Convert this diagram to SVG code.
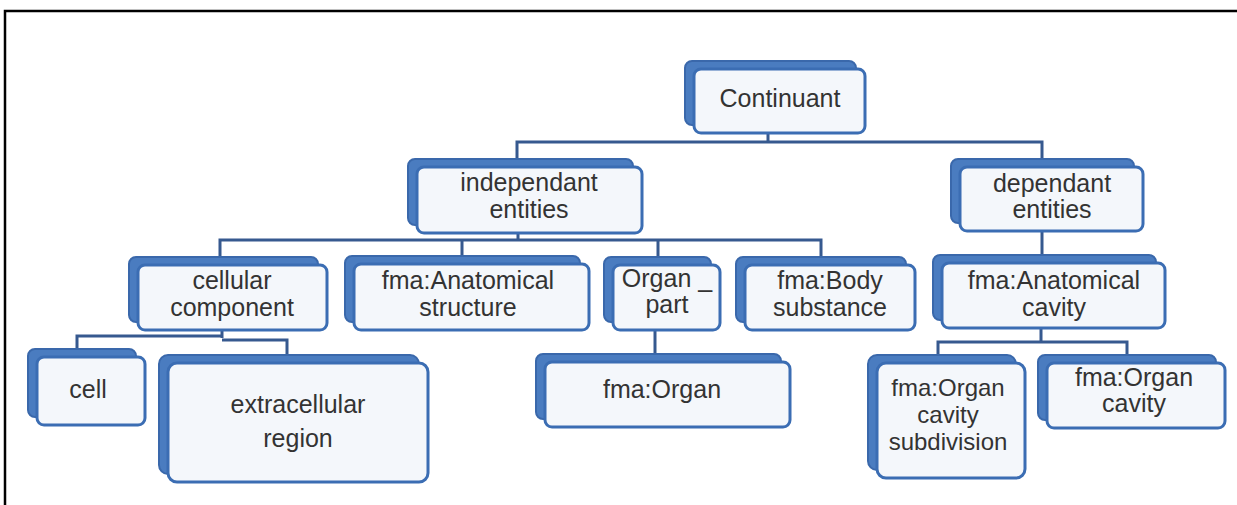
<svg xmlns="http://www.w3.org/2000/svg" width="1237" height="505" viewBox="0 0 1237 505">
  <style>
    .frame { fill: none; stroke: #000; stroke-width: 2.5; }
    .back { fill: #4a7cc0; stroke: #3a68ab; stroke-width: 2; }
    .front { fill: #f4f7fb; stroke: #3b6db3; stroke-width: 3; }
    .lbl { font-family: "Liberation Sans", Arial, sans-serif; font-size: 25px; fill: #333; text-anchor: middle; }
    .tight { font-size: 24px; }
    .conn { fill: none; stroke: #36598f; stroke-width: 3; }
  </style>

  <rect width="1237" height="505" fill="#fff"/>

  <!-- outer frame: top and left edges only -->
  <path class="frame" d="M5,505 V11 H1237"/>

  <!-- connectors -->
  <g id="connectors">
    <path class="conn" d="M768,133 V142 M517,159 V142 H1042 V159"/>
    <path class="conn" d="M518,233 V240 M220,257 V240 H821 V257 M462,240 V256 M658,240 V257"/>
    <path class="conn" d="M1042,231 V255"/>
    <path class="conn" d="M222,330 V338 M77,349 V336 H222 M222,340 H287 V355"/>
    <path class="conn" d="M655,330 V354"/>
    <path class="conn" d="M1041,328 V342 M938,354 V342 H1127 V355"/>
  </g>

  <g id="continuant">
    <rect class="back" x="685" y="61" width="171" height="64" rx="7"/>
    <rect class="front" x="694" y="69" width="171" height="64" rx="7"/>
    <text class="lbl" x="780" y="107">Continuant</text>
  </g>

  <g id="independant-entities">
    <rect class="back" x="408" y="159" width="225" height="66" rx="7"/>
    <rect class="front" x="417" y="167" width="225" height="66" rx="7"/>
    <text class="lbl" x="529" y="191">independant</text>
    <text class="lbl" x="529" y="218">entities</text>
  </g>

  <g id="dependant-entities">
    <rect class="back" x="951" y="159" width="183" height="64" rx="7"/>
    <rect class="front" x="960" y="167" width="183" height="64" rx="7"/>
    <text class="lbl" x="1052" y="192">dependant</text>
    <text class="lbl" x="1052" y="218">entities</text>
  </g>

  <g id="cellular-component">
    <rect class="back" x="129" y="257" width="189" height="65" rx="7"/>
    <rect class="front" x="138" y="265" width="189" height="65" rx="7"/>
    <text class="lbl" x="232" y="289">cellular</text>
    <text class="lbl" x="232" y="316">component</text>
  </g>

  <g id="anatomical-structure">
    <rect class="back" x="345" y="256" width="235" height="66" rx="7"/>
    <rect class="front" x="354" y="264" width="235" height="66" rx="7"/>
    <text class="lbl" x="468" y="289">fma:Anatomical</text>
    <text class="lbl" x="468" y="316">structure</text>
  </g>

  <g id="organ-part">
    <rect class="back" x="604" y="257" width="107" height="65" rx="7"/>
    <rect class="front" x="613" y="265" width="107" height="65" rx="7"/>
    <text class="lbl" x="667" y="287">Organ _</text>
    <text class="lbl" x="667" y="313">part</text>
  </g>

  <g id="body-substance">
    <rect class="back" x="736" y="257" width="170" height="65" rx="7"/>
    <rect class="front" x="745" y="265" width="170" height="65" rx="7"/>
    <text class="lbl" x="830" y="289">fma:Body</text>
    <text class="lbl" x="830" y="316">substance</text>
  </g>

  <g id="anatomical-cavity">
    <rect class="back" x="933" y="255" width="223" height="65" rx="7"/>
    <rect class="front" x="942" y="263" width="223" height="65" rx="7"/>
    <text class="lbl" x="1054" y="289">fma:Anatomical</text>
    <text class="lbl" x="1054" y="316">cavity</text>
  </g>

  <g id="cell">
    <rect class="back" x="28" y="349" width="108" height="68" rx="7"/>
    <rect class="front" x="37" y="357" width="108" height="68" rx="7"/>
    <text class="lbl" x="88" y="398">cell</text>
  </g>

  <g id="extracellular-region">
    <rect class="back" x="159" y="355" width="260" height="119" rx="9"/>
    <rect class="front" x="168" y="363" width="260" height="119" rx="9"/>
    <text class="lbl" x="298" y="413">extracellular</text>
    <text class="lbl" x="298" y="447">region</text>
  </g>

  <g id="organ">
    <rect class="back" x="536" y="354" width="245" height="65" rx="7"/>
    <rect class="front" x="545" y="362" width="245" height="65" rx="7"/>
    <text class="lbl" x="662" y="398">fma:Organ</text>
  </g>

  <g id="organ-cavity-subdivision">
    <rect class="back" x="868" y="355" width="148" height="115" rx="9"/>
    <rect class="front" x="877" y="363" width="148" height="115" rx="9"/>
    <text class="lbl tight" x="948" y="396">fma:Organ</text>
    <text class="lbl tight" x="948" y="423">cavity</text>
    <text class="lbl tight" x="948" y="450">subdivision</text>
  </g>

  <g id="organ-cavity">
    <rect class="back" x="1038" y="355" width="178" height="65" rx="7"/>
    <rect class="front" x="1047" y="363" width="178" height="65" rx="7"/>
    <text class="lbl" x="1134" y="386">fma:Organ</text>
    <text class="lbl" x="1134" y="412">cavity</text>
  </g>
</svg>
